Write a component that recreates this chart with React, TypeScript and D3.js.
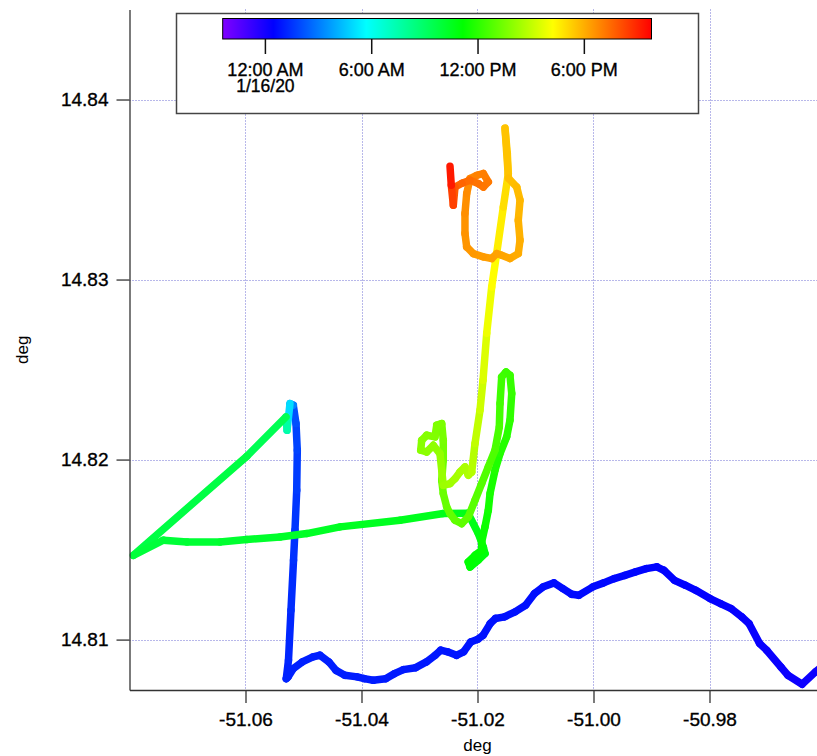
import * as d3 from "d3";
import { useEffect, useRef } from "react";

const W = 817;
const H = 756;

// ship track: longitude, latitude, hour of 1/16/20
const trackLon = [
  -50.95836, -50.96171, -50.96403, -50.96648, -50.96769, -50.97014, -50.97136, -50.97319, -50.97441, -50.97626,
  -50.97809, -50.97991, -50.98236, -50.98419, -50.98603, -50.98786, -50.98909, -50.99091, -50.99276, -50.99459,
  -50.99641, -50.99826, -51.00009, -51.00253, -51.00376, -51.00528, -51.00681, -51.00864, -51.01017, -51.01171,
  -51.01353, -51.01536, -51.0169, -51.01781, -51.01903, -51.01995, -51.02117, -51.0224, -51.02362, -51.02516,
  -51.02636, -51.02729, -51.02881, -51.03066, -51.03279, -51.03431, -51.03584, -51.03798, -51.03952, -51.04074,
  -51.04288, -51.0444, -51.04562, -51.04716, -51.04836, -51.05021, -51.05174, -51.05266, -51.05297, -51.05259,
  -51.05216, -51.05172, -51.05147, -51.05117, -51.05107, -51.05129, -51.05176, -51.05233, -51.05284, -51.05302,
  -51.05979, -51.07934, -51.07417, -51.07009, -51.0644, -51.05979, -51.05405, -51.04945, -51.04371, -51.03336,
  -51.0259, -51.02164, -51.01986, -51.019, -51.01871, -51.01986, -51.02129, -51.02159, -51.02043, -51.01928,
  -51.01928, -51.01871, -51.01814, -51.01784, -51.01698, -51.01612, -51.01497, -51.0144, -51.0141, -51.0144,
  -51.01509, -51.01583, -51.01612, -51.01624, -51.01698, -51.01814, -51.01928, -51.02043, -51.02159, -51.02272,
  -51.02388, -51.02474, -51.02531, -51.0259, -51.02617, -51.0259, -51.0259, -51.02617, -51.02703, -51.02733,
  -51.02876, -51.02962, -51.02979, -51.02876, -51.02762, -51.02647, -51.02617, -51.0259, -51.02474, -51.02388,
  -51.02302, -51.02216, -51.02159, -51.021, -51.02043, -51.01957, -51.01905, -51.01841, -51.01755, -51.01669,
  -51.01555, -51.01469, -51.01486, -51.01526, -51.01466, -51.01324, -51.01267, -51.01297, -51.01267, -51.01297,
  -51.0144, -51.01583, -51.01669, -51.01755, -51.019, -51.02072, -51.02186, -51.02216, -51.02216, -51.02186,
  -51.02129, -51.02014, -51.019, -51.01814, -51.019, -51.01986, -51.02129, -51.02267, -51.02388, -51.02417,
  -51.02452, -51.02474,
];
const trackLat = [
  14.80913, 14.80821, 14.80752, 14.80802, 14.80848, 14.80941, 14.80978, 14.81089, 14.81126, 14.81172,
  14.812, 14.81228, 14.81274, 14.81302, 14.81329, 14.81385, 14.81404, 14.81394, 14.81376, 14.81357,
  14.81339, 14.81315, 14.81293, 14.81246, 14.81252, 14.81283, 14.81315, 14.81293, 14.81256, 14.81191,
  14.81154, 14.81126, 14.81117, 14.81089, 14.81024, 14.81002, 14.80987, 14.80932, 14.80913, 14.80932,
  14.80941, 14.80913, 14.80876, 14.80844, 14.80833, 14.80811, 14.80783, 14.80774, 14.80783, 14.80793,
  14.80802, 14.80829, 14.80876, 14.80913, 14.80904, 14.80876, 14.80839, 14.80793, 14.80783, 14.80885,
  14.81163, 14.81441, 14.81607, 14.81829, 14.82052, 14.822, 14.82302, 14.82311, 14.82163, 14.82237,
  14.82018, 14.81468, 14.81552, 14.81542, 14.81542, 14.81556, 14.8157, 14.81589, 14.81626, 14.81663,
  14.817, 14.81702, 14.81589, 14.81514, 14.81478, 14.81441, 14.81403, 14.81431, 14.81468, 14.81496,
  14.81542, 14.81626, 14.81718, 14.81811, 14.81941, 14.82033, 14.82126, 14.82218, 14.82367, 14.82468,
  14.82487, 14.82459, 14.82311, 14.82181, 14.82052, 14.81959, 14.81867, 14.81774, 14.81681, 14.81644,
  14.81663, 14.817, 14.81737, 14.81811, 14.81885, 14.81996, 14.82107, 14.822, 14.82191, 14.82126,
  14.82135, 14.82107, 14.82052, 14.82042, 14.82079, 14.82033, 14.81941, 14.81857, 14.81867, 14.81894,
  14.81931, 14.81959, 14.81913, 14.81931, 14.82089, 14.82274, 14.82441, 14.82702, 14.82959, 14.83146,
  14.83403, 14.83589, 14.837, 14.83841, 14.83563, 14.83514, 14.83441, 14.83329, 14.83218, 14.83144,
  14.83117, 14.83135, 14.83144, 14.83117, 14.83126, 14.83144, 14.83181, 14.83256, 14.83367, 14.83478,
  14.83561, 14.83579, 14.83589, 14.83542, 14.83514, 14.83533, 14.83552, 14.83535, 14.83514, 14.83413,
  14.83524, 14.83629,
];
const trackHour = [
  0.1, 0.14, 0.17, 0.2, 0.22, 0.25, 0.27, 0.3, 0.32, 0.34,
  0.36, 0.38, 0.41, 0.43, 0.45, 0.47, 0.49, 0.51, 0.53, 0.55,
  0.57, 0.59, 0.61, 0.64, 0.65, 0.67, 0.69, 0.71, 0.72, 0.74,
  0.76, 0.78, 0.79, 0.8, 0.82, 0.83, 0.84, 0.86, 0.87, 0.88,
  0.89, 0.9, 0.92, 0.93, 0.95, 0.96, 0.97, 0.99, 1.0, 1.01,
  1.03, 1.04, 1.05, 1.07, 1.08, 1.1, 1.11, 1.12, 1.13, 1.17,
  1.3, 1.42, 1.5, 1.62, 1.75, 1.9, 2.3, 4.0, 6.0, 9.2,
  9.55, 9.85, 9.95, 10.0, 10.08, 10.15, 10.24, 10.31, 10.38, 10.48,
  10.56, 10.62, 10.75, 10.85, 10.9, 10.97, 11.05, 11.1, 11.15, 11.2,
  11.27, 11.35, 11.45, 11.55, 11.7, 11.8, 11.9, 12.0, 12.15, 12.25,
  12.3, 12.35, 12.45, 12.55, 12.65, 12.72, 12.8, 12.87, 12.95, 13.0,
  13.05, 13.1, 13.15, 13.2, 13.28, 13.38, 13.48, 13.56, 13.62, 13.68,
  13.74, 13.8, 13.86, 13.92, 13.98, 14.05, 14.12, 14.2, 14.3, 14.38,
  14.45, 14.52, 14.58, 14.65, 14.85, 15.1, 15.35, 15.7, 16.1, 16.4,
  16.8, 17.1, 17.3, 17.45, 17.6, 17.68, 17.75, 17.85, 17.95, 18.02,
  18.1, 18.17, 18.22, 18.28, 18.36, 18.44, 18.5, 18.56, 18.62, 18.7,
  18.8, 18.9, 19.0, 19.1, 19.18, 19.25, 19.35, 19.5, 19.7, 20.0,
  20.8, 21.7,
];

const lonDomain = [-51.08, -50.96];
const latDomain = [14.8072, 14.845];
const xTicks = [-51.06, -51.04, -51.02, -51.0, -50.98];
const yTicks = [14.81, 14.82, 14.83, 14.84];

// colour bar (hours of 1/16/20)
const hourDomain = [-2.41, 21.79];
const hourTicks = [0, 6, 12, 18];
const hourTickLabels = ["12:00 AM", "6:00 AM", "12:00 PM", "6:00 PM"];
const dateLabel = "1/16/20";
const rainbow = ["#8000ff", "#0000ff", "#00ffff", "#00ff00", "#ffff00", "#ff0000"];
const rainbowStops = [0, 0.118, 0.335, 0.56, 0.77, 1];

const FONT = "'Liberation Sans', Arial, Helvetica, sans-serif";

const App = () => {
  const svgRef = useRef<SVGSVGElement | null>(null);

  useEffect(() => {
    const svg = d3.select(svgRef.current);
    svg.selectAll("*").remove();

    // plot box
    const left = 129.5,
      right = 825.5,
      top = 9.5,
      bottom = 690;

    const x = d3.scaleLinear().domain(lonDomain).range([left, right]);
    const y = d3.scaleLinear().domain(latDomain).range([bottom, top]);
    const color = d3
      .scaleLinear<string>()
      .domain(rainbowStops.map((f) => hourDomain[0] + f * (hourDomain[1] - hourDomain[0])))
      .range(rainbow)
      .clamp(true);

    svg.append("rect").attr("width", W).attr("height", H).attr("fill", "#fff");

    // dotted grid
    const grid = svg
      .append("g")
      .attr("stroke", "#7070d4")
      .attr("stroke-width", 1)
      .attr("stroke-dasharray", "1,2");
    grid
      .selectAll("line.gx")
      .data(xTicks)
      .join("line")
      .attr("x1", (d) => Math.round(x(d)) + 0.5)
      .attr("x2", (d) => Math.round(x(d)) + 0.5)
      .attr("y1", top)
      .attr("y2", bottom);
    grid
      .selectAll("line.gy")
      .data(yTicks)
      .join("line")
      .attr("x1", left)
      .attr("x2", right)
      .attr("y1", (d) => Math.round(y(d)) + 0.5)
      .attr("y2", (d) => Math.round(y(d)) + 0.5);

    // track, one segment per pair of points, coloured by time
    const defs = svg.append("defs");
    defs
      .append("clipPath")
      .attr("id", "plotclip")
      .append("rect")
      .attr("x", left)
      .attr("y", top)
      .attr("width", right - left)
      .attr("height", bottom - top);

    const segs = d3.range(trackLon.length - 1);
    svg
      .append("g")
      .attr("clip-path", "url(#plotclip)")
      .attr("fill", "none")
      .attr("stroke-width", 7.5)
      .attr("stroke-linecap", "round")
      .attr("stroke-linejoin", "round")
      .selectAll("line")
      .data(segs)
      .join("line")
      .attr("x1", (i) => x(trackLon[i]))
      .attr("y1", (i) => y(trackLat[i]))
      .attr("x2", (i) => x(trackLon[i + 1]))
      .attr("y2", (i) => y(trackLat[i + 1]))
      .attr("stroke", (i) => color((trackHour[i] + trackHour[i + 1]) / 2));

    // axes (plain hyphen for the minus, as in the reference)
    const fmt = (d: d3.NumberValue) => (+d).toFixed(2);
    const yAxis = svg
      .append("g")
      .attr("transform", `translate(${left},0)`)
      .call(d3.axisLeft(y).tickValues(yTicks).tickFormat(fmt).tickSize(13).tickSizeOuter(0).tickPadding(8));
    const xAxis = svg
      .append("g")
      .attr("transform", `translate(0,${bottom})`)
      .call(d3.axisBottom(x).tickValues(xTicks).tickFormat(fmt).tickSize(13).tickSizeOuter(0).tickPadding(9.5));
    [xAxis, yAxis].forEach((a) => {
      a.select(".domain").attr("stroke", "#333").attr("stroke-width", 1.3);
      a.selectAll(".tick line").attr("stroke", "#333").attr("stroke-width", 1.3);
      a.selectAll(".tick text")
        .attr("fill", "#000")
        .attr("stroke", "#000")
        .attr("stroke-width", 0.35)
        .attr("font-size", 19)
        .attr("font-family", FONT);
    });

    svg
      .append("text")
      .attr("x", (left + right) / 2)
      .attr("y", 751)
      .attr("text-anchor", "middle")
      .attr("font-size", 17)
      .attr("font-family", FONT)
      .text("deg");
    svg
      .append("text")
      .attr("transform", `translate(28,${(top + bottom) / 2}) rotate(-90)`)
      .attr("text-anchor", "middle")
      .attr("font-size", 17)
      .attr("font-family", FONT)
      .text("deg");

    // legend box with colour bar
    svg
      .append("rect")
      .attr("x", 176.5)
      .attr("y", 13.5)
      .attr("width", 522)
      .attr("height", 100)
      .attr("fill", "#fff")
      .attr("stroke", "#444")
      .attr("stroke-width", 1.5);

    const grad = defs.append("linearGradient").attr("id", "rainbow");
    grad
      .selectAll("stop")
      .data(rainbowStops)
      .join("stop")
      .attr("offset", (d) => d)
      .attr("stop-color", (_, i) => rainbow[i]);

    const t = d3.scaleLinear().domain(hourDomain).range([222.7, 651.5]);
    svg
      .append("rect")
      .attr("x", t(hourDomain[0]))
      .attr("y", 18.5)
      .attr("width", t(hourDomain[1]) - t(hourDomain[0]))
      .attr("height", 20.5)
      .attr("fill", "url(#rainbow)")
      .attr("stroke", "#000")
      .attr("stroke-width", 1);

    const tk = svg.append("g").selectAll("g").data(hourTicks).join("g").attr("transform", (d) => `translate(${t(d)},0)`);
    tk.append("line").attr("y1", 39).attr("y2", 54).attr("stroke", "#111").attr("stroke-width", 1.5);
    const labelStyle = (s: d3.Selection<SVGTextElement, any, any, any>) =>
      s
        .attr("text-anchor", "middle")
        .attr("font-size", 18)
        .attr("font-family", FONT)
        .attr("fill", "#000")
        .attr("stroke", "#000")
        .attr("stroke-width", 0.35);
    tk.append("text")
      .attr("y", 76)
      .call(labelStyle)
      .text((_, i) => hourTickLabels[i]);
    svg
      .append("text")
      .attr("x", t(hourTicks[0]))
      .attr("y", 92)
      .call(labelStyle)
      .attr("font-size", 17.5)
      .text(dateLabel);
  }, []);

  return (
    <svg
      ref={svgRef}
      width={W}
      height={H}
      style={{ position: "absolute", left: 0, top: 0, display: "block" }}
    />
  );
};

export default App;
